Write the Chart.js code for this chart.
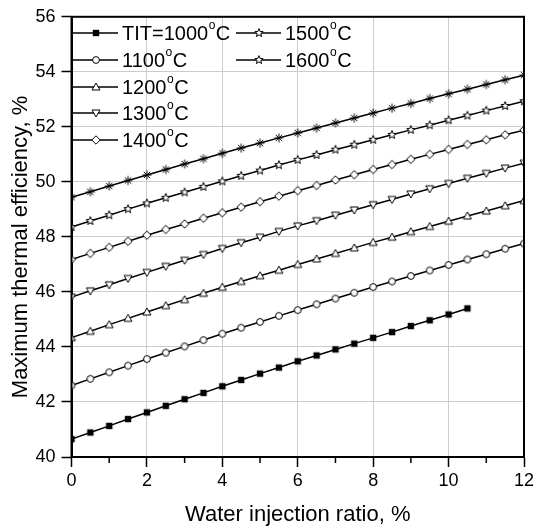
<!DOCTYPE html>
<html>
<head>
<meta charset="utf-8">
<script src="https://cdn.jsdelivr.net/npm/chart.js@4/dist/chart.umd.min.js"></script>
<style>
  html, body { margin: 0; padding: 0; background: #fff; }
  #wrap { position: relative; width: 545px; height: 528px; }
</style>
</head>
<body>
<div id="wrap"><canvas id="chart"></canvas></div>
<script>
// water injection ratio, %
const ratio = [0, 0.5, 1, 1.5, 2, 2.5, 3, 3.5, 4, 4.5, 5, 5.5, 6, 6.5, 7, 7.5, 8, 8.5, 9, 9.5, 10, 10.5, 11, 11.5, 12];

// maximum thermal efficiency, % (one array per TIT)
const eff1000 = [40.65, 40.89, 41.13, 41.38, 41.62, 41.86, 42.10, 42.33, 42.57, 42.80, 43.03, 43.25, 43.48, 43.69, 43.91, 44.12, 44.33, 44.54, 44.76, 44.97, 45.18, 45.40];
const eff1100 = [42.60, 42.84, 43.08, 43.32, 43.56, 43.79, 44.02, 44.25, 44.48, 44.70, 44.91, 45.13, 45.34, 45.55, 45.76, 45.97, 46.18, 46.38, 46.58, 46.78, 46.98, 47.18, 47.37, 47.57, 47.76];
const eff1200 = [44.34, 44.57, 44.81, 45.04, 45.27, 45.50, 45.72, 45.95, 46.17, 46.38, 46.59, 46.79, 47.00, 47.20, 47.40, 47.60, 47.80, 47.99, 48.19, 48.38, 48.57, 48.76, 48.94, 49.13, 49.32];
const eff1300 = [45.81, 46.04, 46.26, 46.49, 46.71, 46.93, 47.15, 47.36, 47.58, 47.79, 47.99, 48.20, 48.40, 48.59, 48.79, 48.98, 49.17, 49.36, 49.56, 49.75, 49.94, 50.13, 50.31, 50.50, 50.68];
const eff1400 = [47.18, 47.40, 47.62, 47.84, 48.06, 48.27, 48.47, 48.68, 48.88, 49.08, 49.28, 49.48, 49.68, 49.87, 50.07, 50.26, 50.45, 50.63, 50.82, 51.00, 51.18, 51.36, 51.53, 51.71, 51.88];
const eff1500 = [48.36, 48.58, 48.79, 49.01, 49.22, 49.42, 49.62, 49.82, 50.02, 50.22, 50.41, 50.61, 50.80, 50.98, 51.17, 51.35, 51.53, 51.71, 51.89, 52.06, 52.24, 52.41, 52.59, 52.76, 52.93];
const eff1600 = [49.44, 49.64, 49.85, 50.05, 50.25, 50.45, 50.65, 50.84, 51.04, 51.23, 51.41, 51.60, 51.78, 51.96, 52.14, 52.32, 52.50, 52.68, 52.85, 53.03, 53.20, 53.37, 53.54, 53.71, 53.88];

const seriesLabels = ['TIT=1000', '1100', '1200', '1300', '1400', '1500', '1600'];
const seriesValues = [eff1000, eff1100, eff1200, eff1300, eff1400, eff1500, eff1600];
const minorTicks = [1, 3, 5, 7, 9, 11];
const yTitle = 'Maximum thermal efficiency, %';

// marker images, drawn once
const makeMarker = (kind) => {
  const c = document.createElement('canvas');
  c.width = 14; c.height = 14;
  const g = c.getContext('2d');
  g.translate(7, 7);
  g.lineWidth = 1;
  g.strokeStyle = '#000';
  g.fillStyle = '#fff';
  g.beginPath();
  if (kind === 'square') {
    g.fillStyle = '#000';
    g.fillRect(-3.2, -3.2, 6.4, 6.4);
    return c;
  } else if (kind === 'circle') {
    g.arc(0, 0, 3.4, 0, Math.PI * 2);
  } else if (kind === 'tri') {
    g.moveTo(0, -4); g.lineTo(4, 3); g.lineTo(-4, 3); g.closePath();
  } else if (kind === 'triDown') {
    g.moveTo(0, 4); g.lineTo(4, -3); g.lineTo(-4, -3); g.closePath();
  } else if (kind === 'diamond') {
    g.moveTo(0, -4.2); g.lineTo(4.2, 0); g.lineTo(0, 4.2); g.lineTo(-4.2, 0); g.closePath();
  } else if (kind === 'star') {
    for (let i = 0; i < 10; i++) {
      const r = i % 2 ? 1.9 : 4.4;
      const a = -Math.PI / 2 + i * Math.PI / 5;
      if (i === 0) g.moveTo(r * Math.cos(a), r * Math.sin(a));
      else g.lineTo(r * Math.cos(a), r * Math.sin(a));
    }
    g.closePath();
  } else if (kind === 'asterisk') {
    for (let i = 0; i < 4; i++) {
      const a = i * Math.PI / 4;
      g.moveTo(-4.5 * Math.cos(a), -4.5 * Math.sin(a));
      g.lineTo(4.5 * Math.cos(a), 4.5 * Math.sin(a));
    }
    g.stroke();
    return c;
  }
  g.fill();
  g.stroke();
  return c;
};

const plotMarkers = ['square', 'circle', 'tri', 'triDown', 'diamond', 'star', 'asterisk'].map(makeMarker);
const legendMarkers = ['square', 'circle', 'tri', 'triDown', 'diamond', 'star', 'star'].map(makeMarker);

const datasets = seriesValues.map((vals, i) => ({
  label: seriesLabels[i],
  data: vals.map((v, j) => ({ x: ratio[j], y: v })),
  borderColor: '#000',
  borderWidth: 1.5,
  pointStyle: plotMarkers[i],
  fill: false,
  tension: 0
}));

const FONT = "'Liberation Sans', Arial, sans-serif";

// frame, minor ticks, y title and the two-column legend
const extrasPlugin = {
  id: 'extras',
  afterDraw(chart) {
    const { ctx, chartArea: a, scales: { x } } = chart;
    ctx.save();
    ctx.strokeStyle = '#000';
    ctx.lineWidth = 1.5;
    minorTicks.forEach(v => {
      const px = x.getPixelForValue(v);
      ctx.beginPath();
      ctx.moveTo(px, a.bottom);
      ctx.lineTo(px, a.bottom + 6);
      ctx.stroke();
    });
    ctx.lineWidth = 2;
    ctx.strokeRect(a.left, a.top, a.right - a.left, a.bottom - a.top);

    ctx.fillStyle = '#000';
    ctx.textBaseline = 'middle';

    // y axis title, sits a little below the axis centre as in the original
    ctx.save();
    ctx.translate(21, 247);
    ctx.rotate(-Math.PI / 2);
    ctx.textAlign = 'center';
    ctx.font = '22px ' + FONT;
    ctx.fillText(yTitle, 0, 0);
    ctx.restore();

    const cols = [73, 236];
    const rows = [33, 60, 87, 113, 140];
    chart.data.datasets.forEach((ds, i) => {
      const x0 = i < 5 ? cols[0] : cols[1];
      const y0 = i < 5 ? rows[i] : rows[i - 5];
      ctx.lineWidth = 1.5;
      ctx.beginPath();
      ctx.moveTo(x0, y0);
      ctx.lineTo(x0 + 45, y0);
      ctx.stroke();
      const m = legendMarkers[i];
      ctx.drawImage(m, x0 + 23 - m.width / 2, y0 - m.height / 2);
      let tx = x0 + 49;
      ctx.font = '20px ' + FONT;
      ctx.fillText(ds.label, tx, y0 + 1);
      tx += ctx.measureText(ds.label).width;
      ctx.font = '12px ' + FONT;
      ctx.fillText('o', tx + 0.5, y0 - 7);
      tx += ctx.measureText('o').width + 1;
      ctx.font = '20px ' + FONT;
      ctx.fillText('C', tx, y0 + 1);
    });
    ctx.restore();
  }
};

new Chart(document.getElementById('chart'), {
  type: 'line',
  data: { datasets },
  options: {
    responsive: true,
    maintainAspectRatio: false,
    animation: false,
    devicePixelRatio: 1,
    layout: { padding: { top: 13, right: 21, left: 0, bottom: 0 } },
    plugins: { legend: { display: false }, tooltip: { enabled: false } },
    events: [],
    scales: {
      x: {
        type: 'linear',
        min: 0,
        max: 12,
        afterFit: (s) => { s.height = 71; },
        ticks: { stepSize: 2, color: '#000', font: { family: FONT, size: 18 }, padding: 3, maxRotation: 0 },
        grid: {
          color: (c) => (c.tick && (c.tick.value === 0 || c.tick.value === 12)) ? 'rgba(0,0,0,0)' : '#cccccc',
          tickColor: '#000',
          tickLength: 10,
          tickWidth: 1.5,
          lineWidth: 1
        },
        border: { display: true, color: '#000', width: 2 },
        title: { display: true, text: 'Water injection ratio, %', color: '#000', font: { family: FONT, size: 22 }, padding: { top: 0, bottom: 0 } }
      },
      y: {
        min: 40,
        max: 56,
        afterFit: (s) => { s.width = 71.5; },
        ticks: { stepSize: 2, color: '#000', font: { family: FONT, size: 18 }, padding: 6 },
        grid: {
          color: (c) => (c.tick && (c.tick.value === 40 || c.tick.value === 56)) ? 'rgba(0,0,0,0)' : '#cccccc',
          tickColor: '#000',
          tickLength: 10,
          tickWidth: 1.5,
          lineWidth: 1
        },
        border: { display: true, color: '#000', width: 2 }
      }
    }
  },
  plugins: [extrasPlugin]
});
</script>
</body>
</html>
